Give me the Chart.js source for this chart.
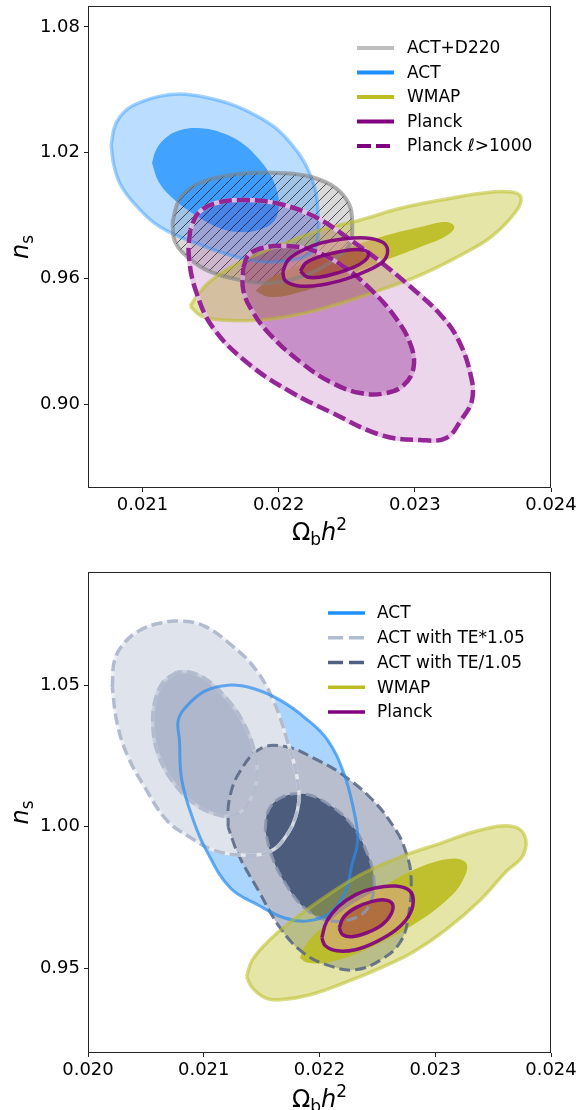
<!DOCTYPE html>
<html>
<head>
<meta charset="utf-8">
<script src="https://cdn.jsdelivr.net/npm/chart.js@4.4.1/dist/chart.umd.min.js"></script>
<style>
  html, body { margin: 0; padding: 0; background: #fff; }
  canvas { display: block; }
</style>
</head>
<body>
<canvas id="topChart" width="579" height="545"></canvas>
<canvas id="bottomChart" width="579" height="565"></canvas>
<script>
'use strict';

// ---------- top panel data : [omega_b h^2, n_s] contour vertices ----------
const topXTicks = [0.021, 0.022, 0.023, 0.024];
const topYTicks = [0.90, 0.96, 1.02, 1.08];
const topNames = ['ACT+D220', 'ACT', 'WMAP', 'Planck', 'Planck \u2113>1000'];

const actOuterTop = [[0.02077,1.0236],[0.02079,1.0141],[0.02084,1.0046],[0.02095,0.9950],[0.02113,0.9845],[0.02143,0.9759],[0.02172,0.9697],[0.02194,0.9678],[0.02216,0.9697],[0.02226,0.9736],[0.02229,0.9807],[0.02229,0.9902],[0.02227,1.0022],[0.02220,1.0141],[0.02210,1.0236],[0.02198,1.0317],[0.02183,1.0379],[0.02165,1.0432],[0.02146,1.0465],[0.02128,1.0480],[0.02113,1.0470],[0.02099,1.0442],[0.02088,1.0403],[0.02080,1.0332]];
const actInnerTop = [[0.02107,1.0151],[0.02110,1.0213],[0.02117,1.0270],[0.02128,1.0308],[0.02143,1.0317],[0.02157,1.0298],[0.02172,1.0251],[0.02185,1.0174],[0.02194,1.0093],[0.02199,1.0012],[0.02200,0.9936],[0.02196,0.9869],[0.02185,0.9831],[0.02172,0.9821],[0.02157,0.9840],[0.02139,0.9902],[0.02122,0.9984],[0.02112,1.0060]];
const d220 = [[0.02122,0.9869],[0.02127,0.9974],[0.02139,1.0046],[0.02157,1.0084],[0.02179,1.0103],[0.02201,1.0103],[0.02224,1.0084],[0.02242,1.0031],[0.02252,0.9950],[0.02254,0.9855],[0.02252,0.9759],[0.02238,0.9678],[0.02220,0.9616],[0.02194,0.9578],[0.02172,0.9592],[0.02150,0.9631],[0.02134,0.9697],[0.02124,0.9774]];
const wmapOuterTop = [[0.02135,0.9468],[0.02140,0.9516],[0.02150,0.9588],[0.02172,0.9678],[0.02201,0.9759],[0.02231,0.9831],[0.02260,0.9879],[0.02290,0.9936],[0.02319,0.9974],[0.02349,1.0007],[0.02371,1.0012],[0.02378,0.9984],[0.02374,0.9917],[0.02356,0.9798],[0.02334,0.9712],[0.02304,0.9616],[0.02275,0.9545],[0.02246,0.9483],[0.02216,0.9430],[0.02187,0.9402],[0.02157,0.9402],[0.02143,0.9421]];
const wmapInnerTop = [[0.02183,0.9540],[0.02194,0.9602],[0.02216,0.9664],[0.02246,0.9736],[0.02275,0.9798],[0.02304,0.9845],[0.02323,0.9869],[0.02329,0.9845],[0.02323,0.9802],[0.02304,0.9750],[0.02275,0.9678],[0.02246,0.9602],[0.02216,0.9535],[0.02194,0.9511]];
const planckHiOuter = [[0.02135,0.9831],[0.02134,0.9712],[0.02139,0.9545],[0.02152,0.9363],[0.02179,0.9187],[0.02209,0.9058],[0.02238,0.8963],[0.02275,0.8853],[0.02304,0.8829],[0.02323,0.8839],[0.02334,0.8925],[0.02342,0.9020],[0.02341,0.9139],[0.02332,0.9306],[0.02319,0.9426],[0.02297,0.9559],[0.02275,0.9678],[0.02253,0.9783],[0.02227,0.9893],[0.02201,0.9955],[0.02176,0.9974],[0.02154,0.9960],[0.02141,0.9912]];
const planckHiInner = [[0.02174,0.9650],[0.02178,0.9712],[0.02188,0.9745],[0.02205,0.9755],[0.02224,0.9736],[0.02246,0.9664],[0.02268,0.9545],[0.02286,0.9411],[0.02297,0.9282],[0.02299,0.9173],[0.02292,0.9092],[0.02279,0.9053],[0.02260,0.9053],[0.02238,0.9106],[0.02216,0.9201],[0.02194,0.9330],[0.02181,0.9440],[0.02174,0.9545]];
const planckOuterTop = [[0.02203,0.9631],[0.02207,0.9688],[0.02218,0.9736],[0.02231,0.9769],[0.02247,0.9788],[0.02264,0.9793],[0.02276,0.9774],[0.02280,0.9736],[0.02277,0.9683],[0.02266,0.9640],[0.02249,0.9597],[0.02231,0.9569],[0.02215,0.9564],[0.02205,0.9588]];
const planckInnerTop = [[0.02216,0.9635],[0.02220,0.9674],[0.02229,0.9702],[0.02240,0.9721],[0.02252,0.9736],[0.02262,0.9736],[0.02266,0.9717],[0.02263,0.9683],[0.02254,0.9650],[0.02243,0.9626],[0.02231,0.9607],[0.02221,0.9607]];

// ---------- bottom panel data ----------
const botXTicks = [0.020, 0.021, 0.022, 0.023, 0.024];
const botYTicks = [0.95, 1.00, 1.05];
const botNames = ['ACT', 'ACT with TE*1.05', 'ACT with TE/1.05', 'WMAP', 'Planck'];

const actOuterBot = [[0.02079,1.0306],[0.02078,1.0376],[0.02086,1.0429],[0.02101,1.0479],[0.02121,1.0500],[0.02142,1.0489],[0.02166,1.0447],[0.02188,1.0383],[0.02207,1.0306],[0.02221,1.0189],[0.02229,1.0069],[0.02233,0.9953],[0.02228,0.9865],[0.02222,0.9766],[0.02209,0.9695],[0.02190,0.9667],[0.02170,0.9677],[0.02147,0.9723],[0.02123,0.9783],[0.02103,0.9910],[0.02091,1.0023],[0.02081,1.0165]];
const teHiOuter = [[0.02021,1.0493],[0.02023,1.0588],[0.02032,1.0652],[0.02045,1.0694],[0.02062,1.0719],[0.02081,1.0726],[0.02101,1.0708],[0.02124,1.0641],[0.02144,1.0560],[0.02160,1.0447],[0.02172,1.0306],[0.02181,1.0165],[0.02181,1.0059],[0.02170,0.9960],[0.02156,0.9910],[0.02131,0.9900],[0.02108,0.9918],[0.02088,0.9963],[0.02068,1.0023],[0.02049,1.0140],[0.02034,1.0253],[0.02025,1.0369]];
const teHiInner = [[0.02077,1.0546],[0.02065,1.0511],[0.02058,1.0447],[0.02056,1.0359],[0.02060,1.0263],[0.02071,1.0172],[0.02088,1.0094],[0.02107,1.0048],[0.02127,1.0041],[0.02140,1.0094],[0.02146,1.0182],[0.02143,1.0278],[0.02134,1.0369],[0.02121,1.0447],[0.02103,1.0518],[0.02088,1.0546]];
const teLoOuter = [[0.02121,0.9999],[0.02122,1.0094],[0.02131,1.0193],[0.02150,1.0278],[0.02173,1.0281],[0.02195,1.0242],[0.02218,1.0189],[0.02246,1.0094],[0.02266,0.9988],[0.02274,0.9918],[0.02279,0.9830],[0.02277,0.9688],[0.02270,0.9593],[0.02253,0.9529],[0.02231,0.9494],[0.02209,0.9508],[0.02186,0.9554],[0.02166,0.9642],[0.02147,0.9776],[0.02130,0.9900]];
const teLoInner = [[0.02153,0.9988],[0.02156,1.0059],[0.02168,1.0105],[0.02188,1.0115],[0.02209,1.0076],[0.02228,1.0006],[0.02240,0.9918],[0.02247,0.9819],[0.02244,0.9730],[0.02233,0.9681],[0.02209,0.9667],[0.02189,0.9706],[0.02173,0.9783],[0.02159,0.9893]];
const wmapOuterBot = [[0.02137,0.9469],[0.02142,0.9529],[0.02157,0.9600],[0.02175,0.9663],[0.02201,0.9741],[0.02235,0.9829],[0.02270,0.9893],[0.02305,0.9942],[0.02339,0.9988],[0.02365,1.0002],[0.02377,0.9970],[0.02376,0.9900],[0.02361,0.9840],[0.02339,0.9741],[0.02309,0.9635],[0.02281,0.9557],[0.02253,0.9501],[0.02224,0.9452],[0.02192,0.9406],[0.02166,0.9388],[0.02153,0.9395],[0.02142,0.9430]];
const wmapInnerBot = [[0.02183,0.9536],[0.02188,0.9582],[0.02205,0.9653],[0.02227,0.9723],[0.02253,0.9783],[0.02281,0.9847],[0.02311,0.9886],[0.02326,0.9875],[0.02326,0.9829],[0.02313,0.9752],[0.02281,0.9653],[0.02240,0.9565],[0.02209,0.9522],[0.02190,0.9519]];
const planckOuterBot = [[0.02202,0.9607],[0.02206,0.9663],[0.02216,0.9716],[0.02231,0.9759],[0.02248,0.9783],[0.02266,0.9790],[0.02278,0.9773],[0.02281,0.9734],[0.02277,0.9684],[0.02266,0.9635],[0.02249,0.9593],[0.02231,0.9565],[0.02215,0.9561],[0.02205,0.9579]];
const planckInnerBot = [[0.02217,0.9642],[0.02221,0.9681],[0.02231,0.9713],[0.02244,0.9734],[0.02256,0.9741],[0.02263,0.9727],[0.02262,0.9692],[0.02254,0.9653],[0.02241,0.9625],[0.02228,0.9611],[0.02220,0.9618]];

// ---------- helpers ----------
Chart.defaults.font.family = "'DejaVu Sans'";
Chart.defaults.color = '#000';

const loop = function(pts) {
  const d = pts.map(p => ({x: p[0], y: p[1]}));
  d.push({x: pts[0][0], y: pts[0][1]});
  return d;
};

// filled region (filled by the contourFill plugin using the line element path)
const area = function(pts, fill) {
  return {data: loop(pts), showLine: true, polyFill: fill, borderWidth: 0,
    borderColor: 'rgba(0,0,0,0)', pointRadius: 0, pointHoverRadius: 0, tension: 0.4, fill: false};
};

const edge = function(pts, color, width, dash) {
  return {data: loop(pts), showLine: true, borderColor: color, borderWidth: width,
    borderDash: dash || [], pointRadius: 0, pointHoverRadius: 0, tension: 0.4, fill: false,
    borderJoinStyle: 'round'};
};

const hatchCanvas = document.createElement('canvas');
hatchCanvas.width = 10;
hatchCanvas.height = 10;
(function() {
  const g = hatchCanvas.getContext('2d');
  g.strokeStyle = 'rgba(0,0,0,0.8)';
  g.lineWidth = 0.8;
  g.beginPath();
  g.moveTo(0, 10); g.lineTo(10, 0);
  g.moveTo(-5, 5); g.lineTo(5, -5);
  g.moveTo(5, 15); g.lineTo(15, 5);
  g.stroke();
})();

const contourFill = {
  id: 'contourFill',
  afterDatasetDraw(chart, args) {
    const ds = chart.data.datasets[args.index];
    if (!ds.polyFill) return;
    const el = args.meta.dataset;
    const ctx = chart.ctx;
    const a = chart.chartArea;
    ctx.save();
    ctx.beginPath();
    ctx.rect(a.left, a.top, a.right - a.left, a.bottom - a.top);
    ctx.clip();
    if (el.updateControlPoints) el.updateControlPoints(a, 'x');
    ctx.beginPath();
    if (typeof el.path === 'function') {
      el.path(ctx);
    } else {
      el.points.forEach((p, i) => i ? ctx.lineTo(p.x, p.y) : ctx.moveTo(p.x, p.y));
    }
    ctx.closePath();
    ctx.fillStyle = ds.polyFill === 'hatch' ? ctx.createPattern(hatchCanvas, 'repeat') : ds.polyFill;
    ctx.fill();
    ctx.restore();
  }
};

const drawParts = function(ctx, parts, x, y) {
  let w = 0;
  parts.forEach(p => { ctx.font = p.f; w += ctx.measureText(p.t).width; });
  let cx = x - w / 2;
  parts.forEach(p => {
    ctx.font = p.f;
    ctx.fillText(p.t, cx, y + p.dy);
    cx += ctx.measureText(p.t).width;
  });
};

const decor = {
  id: 'decor',
  afterDraw(chart, args, o) {
    const ctx = chart.ctx;
    const a = chart.chartArea;
    ctx.save();
    ctx.strokeStyle = '#262626';
    ctx.lineWidth = 1;
    ctx.strokeRect(Math.round(a.left) + 0.5, Math.round(a.top) + 0.5,
      Math.round(a.right - a.left) - 1, Math.round(a.bottom - a.top) - 1);

    // legend
    ctx.textBaseline = 'middle';
    ctx.textAlign = 'left';
    o.names.forEach((n, i) => {
      const y = o.legendY + i * o.legendStep;
      ctx.beginPath();
      ctx.setLineDash(o.dashes[i]);
      ctx.strokeStyle = o.colors[i];
      ctx.lineWidth = o.lw;
      ctx.moveTo(o.legendX, y);
      ctx.lineTo(o.legendX + 37, y);
      ctx.stroke();
      ctx.setLineDash([]);
      ctx.fillStyle = '#000';
      ctx.font = "17px 'DejaVu Sans'";
      ctx.fillText(n, o.legendX + o.textOff, y + 1);
    });

    // axis titles
    ctx.textBaseline = 'alphabetic';
    ctx.fillStyle = '#000';
    drawParts(ctx, [
      {t: '\u03a9', f: "24px 'DejaVu Sans'", dy: 0},
      {t: 'b', f: "17px 'DejaVu Sans'", dy: 5},
      {t: 'h', f: "italic 24px 'DejaVu Sans'", dy: 0},
      {t: '2', f: "17px 'DejaVu Sans'", dy: -10}
    ], (a.left + a.right) / 2, o.xTitleY);

    ctx.translate(28, (a.top + a.bottom) / 2);
    ctx.rotate(-Math.PI / 2);
    drawParts(ctx, [
      {t: 'n', f: "italic 24px 'DejaVu Sans'", dy: 0},
      {t: 's', f: "17px 'DejaVu Sans'", dy: 5}
    ], 0, 0);
    ctx.restore();
  }
};

const scaleX = function(min, max, ticks, h) {
  return {
    type: 'linear', position: 'bottom', min: min, max: max,
    afterBuildTicks: s => { s.ticks = ticks.map(v => ({value: v})); },
    afterFit: s => { s.height = h; s.paddingLeft = 0; s.paddingRight = 0; },
    grid: {display: true, drawOnChartArea: false, drawTicks: true, tickLength: 4, tickColor: '#222', tickWidth: 1},
    border: {display: false},
    ticks: {autoSkip: false, maxRotation: 0, minRotation: 0, padding: 3, color: '#000',
      font: {size: 18}, callback: v => Number(v).toFixed(3)}
  };
};

const scaleY = function(min, max, ticks) {
  return {
    type: 'linear', position: 'left', min: min, max: max,
    afterBuildTicks: s => { s.ticks = ticks.map(v => ({value: v})); },
    afterFit: s => { s.width = 88; s.paddingTop = 0; s.paddingBottom = 0; },
    grid: {display: true, drawOnChartArea: false, drawTicks: true, tickLength: 4, tickColor: '#222', tickWidth: 1},
    border: {display: false},
    ticks: {autoSkip: false, padding: 4, color: '#000', font: {size: 18},
      callback: v => Number(v).toFixed(2)}
  };
};

const purple = 'rgba(128,0,128,0.9)';

// bottom-to-top drawing order (reversed before use, Chart.js draws index 0 last)
const topSets = [
  area(d220, 'rgba(128,128,128,0.3)'),
  area(actOuterTop, 'rgba(30,144,255,0.3)'),
  area(actInnerTop, 'rgba(30,144,255,0.77)'),
  area(d220, 'hatch'),
  area(wmapOuterTop, 'rgba(188,189,34,0.4)'),
  area(wmapInnerTop, 'rgba(188,189,34,0.9)'),
  area(planckHiOuter, 'rgba(128,0,128,0.16)'),
  area(planckHiInner, 'rgba(128,0,128,0.33)'),
  area(planckOuterTop, 'rgba(225,160,160,0.45)'),
  area(planckInnerTop, 'rgba(150,45,30,0.5)'),
  edge(actOuterTop, 'rgba(30,144,255,0.4)', 3.5),
  edge(d220, 'rgba(128,128,128,0.6)', 4),
  edge(wmapOuterTop, 'rgba(188,189,34,0.55)', 3.5),
  edge(planckHiOuter, 'rgba(228,195,228,0.9)', 4.5),
  edge(planckHiOuter, 'rgba(135,10,135,0.85)', 4.5, [13, 5]),
  edge(planckHiInner, 'rgba(215,170,215,0.9)', 4.5),
  edge(planckHiInner, 'rgba(135,10,135,0.85)', 4.5, [13, 5]),
  edge(planckOuterTop, purple, 3.5),
  edge(planckInnerTop, purple, 3.5)
];

const botSets = [
  area(actOuterBot, 'rgba(30,144,255,0.38)'),
  area(teHiOuter, 'rgb(223,227,236)'),
  area(teHiInner, 'rgb(174,183,203)'),
  area(teLoOuter, 'rgb(184,190,205)'),
  area(teLoInner, 'rgb(76,92,124)'),
  area(wmapOuterBot, 'rgba(188,189,34,0.4)'),
  area(wmapInnerBot, 'rgba(188,189,34,0.9)'),
  area(planckOuterBot, 'rgba(225,160,160,0.45)'),
  area(planckInnerBot, 'rgba(150,45,30,0.5)'),
  edge(teLoOuter, 'rgba(85,100,130,0.85)', 3, [11, 5]),
  edge(teLoInner, 'rgba(140,150,175,0.9)', 3, [11, 5]),
  edge(teHiOuter, 'rgba(236,238,244,0.85)', 3.5),
  edge(teHiOuter, 'rgb(178,188,206)', 3.5, [11, 5]),
  edge(teHiInner, 'rgba(200,206,220,0.8)', 3.5),
  edge(teHiInner, 'rgb(178,188,206)', 3.5, [11, 5]),
  edge(actOuterBot, 'rgba(40,140,240,0.7)', 3),
  edge(wmapOuterBot, 'rgba(188,189,34,0.55)', 3.5),
  edge(planckOuterBot, purple, 3.5),
  edge(planckInnerBot, purple, 3.5)
];

const makeChart = function(id, sets, xs, ys, pad, deco) {
  return new Chart(document.getElementById(id), {
    type: 'scatter',
    data: {datasets: sets.slice().reverse()},
    options: {
      responsive: false,
      animation: false,
      events: [],
      layout: {padding: pad},
      scales: {x: xs, y: ys},
      plugins: {legend: {display: false}, tooltip: {enabled: false}, decor: deco}
    },
    plugins: [contourFill, decor]
  });
};

makeChart('topChart', topSets,
  scaleX(0.0206, 0.024, topXTicks, 57),
  scaleY(0.86, 1.09, topYTicks),
  {top: 6, right: 28, left: 0, bottom: 0},
  {names: topNames, legendX: 357, legendY: 48, legendStep: 24.5, textOff: 50, lw: 4,
   colors: ['rgb(190,190,190)', 'rgb(30,144,255)', 'rgb(188,189,34)', 'rgb(128,0,128)', 'rgb(128,0,128)'],
   dashes: [[], [], [], [], [14, 5]], xTitleY: 540});

makeChart('bottomChart', botSets,
  scaleX(0.020, 0.024, botXTicks, 57),
  scaleY(0.92, 1.09, botYTicks),
  {top: 27, right: 28, left: 0, bottom: 0},
  {names: botNames, legendX: 328, legendY: 68, legendStep: 24.75, textOff: 49, lw: 3.5,
   colors: ['rgb(30,144,255)', 'rgb(176,188,208)', 'rgb(80,96,128)', 'rgb(188,189,34)', 'rgb(128,0,128)'],
   dashes: [[], [15, 6], [15, 6], [], []], xTitleY: 562});
</script>
</body>
</html>
